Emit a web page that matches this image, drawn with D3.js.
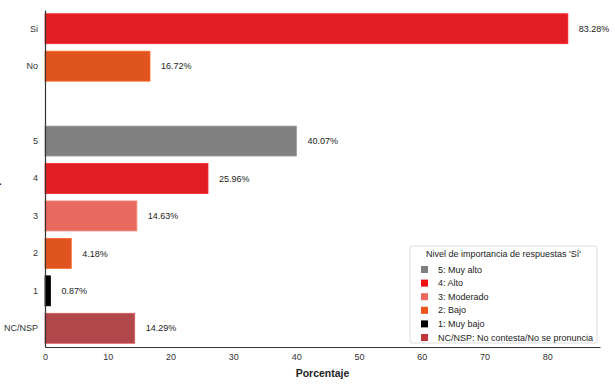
<!DOCTYPE html>
<html>
<head>
<meta charset="utf-8">
<script src="https://cdn.jsdelivr.net/npm/d3@7"></script>
<style>
  body { margin: 0; background: #fff; }
  svg { font-family: "Liberation Sans", Arial, sans-serif; }
</style>
</head>
<body>
<svg id="chart" width="615" height="385"></svg>
<script>
const categories = ["Si", "No", "", "5", "4", "3", "2", "1", "NC/NSP"];
const values = [83.28, 16.72, null, 40.07, 25.96, 14.63, 4.18, 0.87, 14.29];
const colors = ["#e01e24", "#e0541f", null, "#808080", "#e01e24", "#e86a5f", "#e0541f", "#000000", "#b0474b"];
const xTicks = [0, 10, 20, 30, 40, 50, 60, 70, 80];
const legendLabels = ["5: Muy alto", "4: Alto", "3: Moderado", "2: Bajo", "1: Muy bajo", "NC/NSP: No contesta/No se pronuncia"];
const legendColors = ["#808080", "#f01010", "#ee6a5c", "#f05418", "#000000", "#c0343c"];

const svg = d3.select("#chart");
const margin = { top: 10, right: 15, bottom: 38, left: 45 };
const width = 615, height = 385;

const data = categories.map((c, i) => ({ key: i + "", label: c, value: values[i], color: colors[i] }));

const x = d3.scaleLinear()
    .domain([0, 88.4])
    .range([margin.left, width - margin.right]);

const y = d3.scaleBand()
    .domain(data.map(d => d.key))
    .range([margin.top, height - margin.bottom])
    .paddingInner(0.2)
    .paddingOuter(0.1);

// bars
svg.selectAll(".bar")
    .data(data.filter(d => d.value != null))
    .join("rect")
    .attr("class", "bar")
    .attr("x", x(0))
    .attr("y", d => y(d.key))
    .attr("width", d => x(d.value) - x(0))
    .attr("height", y.bandwidth())
    .attr("fill", d => d.color)
    .attr("stroke", d => d3.color(d.color).brighter(0.6))
    .attr("stroke-width", 0.8);

// value labels
svg.selectAll(".val")
    .data(data.filter(d => d.value != null))
    .join("text")
    .attr("class", "val")
    .attr("x", d => x(d.value) + 11)
    .attr("y", d => y(d.key) + y.bandwidth() / 2)
    .attr("dy", "0.35em")
    .style("font-size", "9px")
    .attr("fill", "#222")
    .text(d => d.value.toFixed(2) + "%");

// axes
const yAxis = svg.append("g")
    .attr("transform", `translate(${margin.left},0)`)
    .call(d3.axisLeft(y).tickSize(0).tickPadding(7).tickFormat(k => categories[+k]));
yAxis.select(".domain").attr("stroke", "#333").attr("stroke-width", 1.2);
yAxis.selectAll("text").style("font-size", "9px").attr("fill", "#333");

const xAxis = svg.append("g")
    .attr("transform", `translate(0,${height - margin.bottom})`)
    .call(d3.axisBottom(x).tickValues(xTicks).tickSize(0).tickPadding(7));
xAxis.select(".domain").attr("stroke", "#333").attr("stroke-width", 1.2);
xAxis.selectAll("text").style("font-size", "9px").attr("fill", "#333");

svg.append("text")
    .attr("x", (x(0) + x(88.4)) / 2)
    .attr("y", 377)
    .attr("text-anchor", "middle")
    .style("font-size", "10.5px")
    .style("font-weight", "bold")
    .attr("fill", "#222")
    .text("Porcentaje");

// y label, mostly outside the left edge as in the original
svg.append("text")
    .attr("transform", `translate(-1.5,${(margin.top + height - margin.bottom) / 2}) rotate(-90)`)
    .attr("text-anchor", "middle")
    .style("font-size", "10.5px")
    .style("font-weight", "bold")
    .attr("fill", "#222")
    .text("Respuesta");

// legend
const lg = svg.append("g").attr("transform", "translate(410,246)");
lg.append("rect")
    .attr("width", 187).attr("height", 97).attr("rx", 2)
    .attr("fill", "#fff").attr("fill-opacity", 0.85)
    .attr("stroke", "#ddd");
lg.append("text")
    .attr("x", 93.5).attr("y", 10.5)
    .attr("text-anchor", "middle")
    .style("font-size", "9px")
    .attr("fill", "#222")
    .text("Nivel de importancia de respuestas 'Sí'");
const items = lg.selectAll(".item")
    .data(legendLabels)
    .join("g")
    .attr("class", "item")
    .attr("transform", (d, i) => `translate(11,${20 + i * 13.6})`);
items.append("rect")
    .attr("width", 7).attr("height", 7)
    .attr("fill", (d, i) => legendColors[i]);
items.append("text")
    .attr("x", 17).attr("y", 3.5).attr("dy", "0.35em")
    .style("font-size", "9px")
    .attr("fill", "#222")
    .text(d => d);
</script>
</body>
</html>
